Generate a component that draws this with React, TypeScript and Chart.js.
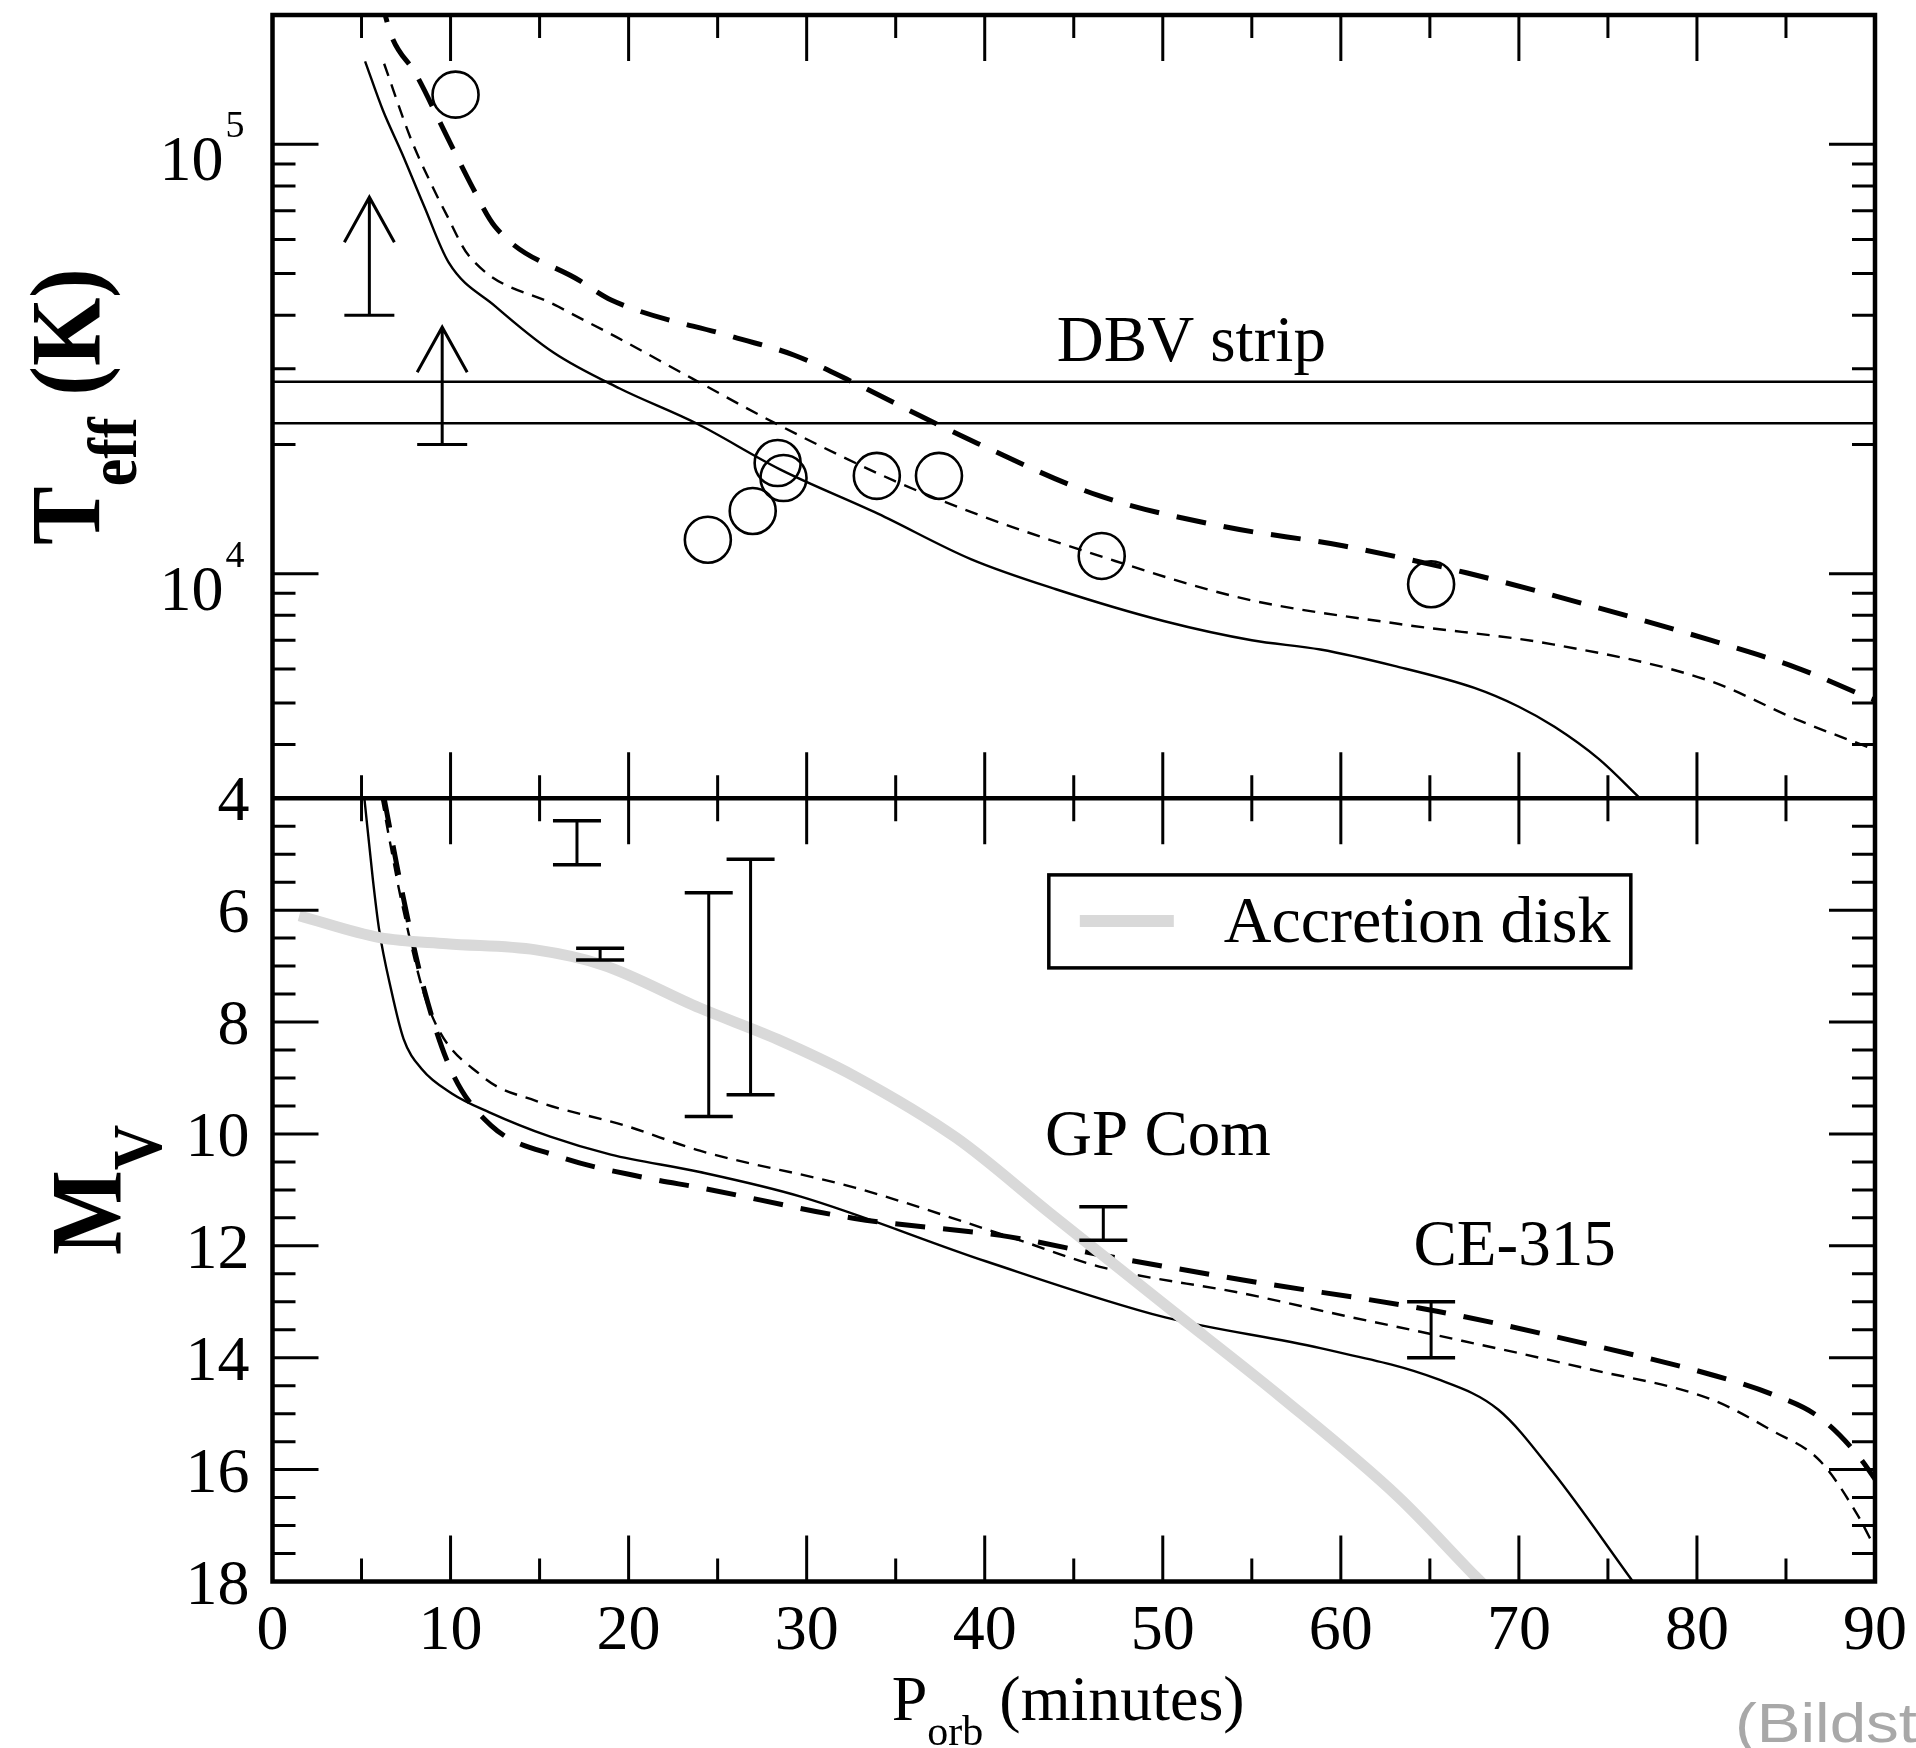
import React, { useEffect, useRef } from "react";
import { Chart, registerables } from "chart.js";

Chart.register(...registerables);

// ---------------- axes / ticks ----------------
const xTickValues = [0, 10, 20, 30, 40, 50, 60, 70, 80, 90];
const xTickLabels = ["0", "10", "20", "30", "40", "50", "60", "70", "80", "90"];
const xMinorTicks = [5, 15, 25, 35, 45, 55, 65, 75, 85];
const tMajorTicks = [1e4, 1e5];
const tTickExponents = ["4", "5"];
const tMinorTicks = [3000, 4000, 5000, 6000, 7000, 8000, 9000, 20000, 30000, 40000, 50000, 60000, 70000, 80000, 90000, 200000];
const mMajorTicks = [4, 6, 8, 10, 12, 14, 16, 18];
const mTickLabels = ["4", "6", "8", "10", "12", "14", "16", "18"];
const mMinorTicks = [4.5, 5, 5.5, 6.5, 7, 7.5, 8.5, 9, 9.5, 10.5, 11, 11.5, 12.5, 13, 13.5, 14.5, 15, 15.5, 16.5, 17, 17.5];

// ---------------- top panel: Teff ----------------
const solidTx = [5.2, 6.2, 7.27, 8.5, 9.9, 12.5, 15.8, 19.5, 23.8, 28.5, 34, 39.25, 44, 50.1, 55, 58.85, 63, 67.5, 70, 72, 74.5, 76.8];
const solidTy = [156000, 120000, 95300, 72000, 53000, 42000, 32700, 27000, 22400, 17500, 13800, 10800, 9200, 7750, 7000, 6660, 6100, 5420, 4900, 4400, 3700, 3000];

const thinTx = [6.27, 7.77, 8.78, 9.78, 11.03, 16.04, 19.3, 23.56, 28.37, 34.9, 39.6, 45.8, 54.5, 63.2, 71.9, 80.6, 85.8, 90];
const thinTy = [154000, 103000, 83000, 68500, 55000, 41900, 35600, 28500, 22260, 16470, 13740, 11220, 8760, 7645, 6847, 5650, 4540, 3890];

const thickTx = [6.0, 6.7, 8.04, 9.76, 11.13, 12.5, 17.3, 19.02, 25.88, 29.31, 32.74, 36.17, 39.6, 46.46, 53.32, 60.19, 67.05, 73.91, 80.77, 85.57, 89.69, 90.5];
const thickTy = [225000, 178000, 146000, 105000, 80900, 64300, 48000, 43400, 35600, 32270, 27730, 23550, 20110, 15170, 12900, 11600, 10050, 8450, 7000, 6046, 5134, 4980];

const dbvStripT = [28000, 22400];

const starsP = [10.28, 24.45, 26.97, 28.37, 28.7, 33.94, 37.43, 46.57, 65.07];
const starsT = [130500, 12000, 14000, 18100, 16700, 16900, 16900, 11000, 9450];

const limitP = [5.44, 9.53];
const limitLowT = [40000, 20000];
const limitArrowT = [75300, 37500];

// ---------------- bottom panel: Mv ----------------
const solidMx = [5.16, 5.64, 5.98, 6.66, 7.36, 8.38, 10.09, 12.15, 15.6, 19.0, 24.0, 29.67, 40.1, 50.14, 58.85, 65.4, 68.85, 71.9, 76.4];
const solidMy = [4.0, 5.46, 6.33, 7.42, 8.3, 8.84, 9.28, 9.61, 10.05, 10.37, 10.68, 11.12, 12.28, 13.28, 13.83, 14.38, 14.93, 16.04, 18.0];

const thinMx = [6.14, 7.27, 8.78, 11.78, 14.79, 19.8, 24.0, 32.7, 41.4, 46.66, 54.5, 60.2, 65.4, 73.9, 80.77, 84.2, 86.9, 89.0, 90];
const thinMy = [4.0, 5.88, 7.75, 8.97, 9.41, 9.85, 10.3, 10.96, 11.84, 12.39, 12.85, 13.25, 13.6, 14.2, 14.74, 15.3, 15.84, 16.8, 17.4];

const thickMx = [6.27, 7.27, 8.52, 10.03, 12.28, 16.04, 21.05, 24.0, 32.7, 41.4, 46.66, 54.5, 65.4, 73.9, 80.77, 84.2, 86.9, 89.0, 90.5];
const thickMy = [4.0, 5.66, 7.42, 8.86, 9.85, 10.4, 10.79, 10.96, 11.51, 11.84, 12.17, 12.61, 13.17, 13.76, 14.3, 14.65, 15.07, 15.73, 16.4];

const diskMx = [1.5, 6.02, 9.78, 14.79, 18.55, 24.0, 28.37, 32.7, 38.4, 43.6, 50.14, 56.67, 63.2, 67.56, 68.0];
const diskMy = [6.1, 6.49, 6.6, 6.71, 6.98, 7.75, 8.31, 8.97, 10.07, 11.4, 13.06, 14.71, 16.48, 17.91, 18.05];

const errP = [17.1, 18.4, 24.5, 26.85, 46.66, 65.07];
const errLoM = [4.4, 6.68, 5.69, 5.09, 11.3, 13.0];
const errHiM = [5.19, 6.89, 9.69, 9.3, 11.9, 14.0];

// annotations (data coordinates of the left/baseline anchor)
const notes = [
  { text: "DBV strip", x: 44.05, y: 31300, axis: "yT" },
  { text: "GP Com", x: 43.39, y: 10.38, axis: "yM" },
  { text: "CE-315", x: 64.08, y: 12.34, axis: "yM" },
];
const legendLabel = "Accretion disk";

const SERIF = "'Liberation Serif', 'Times New Roman', serif";

function zip(xs: number[], ys: number[]) {
  return xs.map((x, i) => ({ x, y: ys[i] }));
}

function rotatedText(ctx: CanvasRenderingContext2D, baseX: number, centerY: number, parts: { text: string; font: string; shift: number }[], sx: number) {
  ctx.save();
  ctx.translate(baseX, centerY);
  ctx.scale(sx, 1);
  ctx.rotate(-Math.PI / 2);
  ctx.textAlign = "left";
  ctx.textBaseline = "alphabetic";
  ctx.fillStyle = "#000";
  let total = 0;
  const widths = parts.map((p) => {
    ctx.font = p.font;
    const w = ctx.measureText(p.text).width;
    total += w;
    return w;
  });
  let u = -total / 2;
  parts.forEach((p, i) => {
    ctx.font = p.font;
    ctx.fillText(p.text, u, p.shift / sx);
    u += widths[i];
  });
  ctx.restore();
}

const decoPlugin = {
  id: "deco",
  beforeDatasetDraw(chart: any, args: any) {
    const ds = chart.data.datasets[args.index];
    const ys = chart.scales[ds.yAxisID];
    const a = chart.chartArea;
    const ctx = chart.ctx;
    ctx.save();
    ctx.beginPath();
    ctx.rect(a.left, ys.top, a.right - a.left, ys.bottom - ys.top);
    ctx.clip();
  },
  afterDatasetDraw(chart: any) {
    chart.ctx.restore();
  },
  afterDraw(chart: any) {
    const ctx: CanvasRenderingContext2D = chart.ctx;
    const xs = chart.scales.x;
    const yT = chart.scales.yT;
    const yM = chart.scales.yM;
    const a = chart.chartArea;
    const L = a.left, R = a.right;
    const MAJ = 46, MIN = 23;

    ctx.save();
    ctx.strokeStyle = "#000";
    ctx.lineCap = "butt";

    // ---- limits (arrows) in top panel ----
    ctx.lineWidth = 3;
    limitP.forEach((p, i) => {
      const xp = xs.getPixelForValue(p);
      const yb = yT.getPixelForValue(limitLowT[i]);
      const yt = yT.getPixelForValue(limitArrowT[i]);
      ctx.beginPath();
      ctx.moveTo(xp, yb);
      ctx.lineTo(xp, yt);
      ctx.moveTo(xp - 25, yb);
      ctx.lineTo(xp + 25, yb);
      ctx.moveTo(xp - 25, yt + 45);
      ctx.lineTo(xp, yt);
      ctx.lineTo(xp + 25, yt + 45);
      ctx.stroke();
    });

    // ---- error bars in bottom panel ----
    errP.forEach((p, i) => {
      const xp = xs.getPixelForValue(p);
      const y1 = yM.getPixelForValue(errLoM[i]);
      const y2 = yM.getPixelForValue(errHiM[i]);
      ctx.lineWidth = 3;
      ctx.beginPath();
      ctx.moveTo(xp, y1);
      ctx.lineTo(xp, y2);
      ctx.stroke();
      ctx.lineWidth = 3.5;
      ctx.beginPath();
      ctx.moveTo(xp - 24, y1);
      ctx.lineTo(xp + 24, y1);
      ctx.moveTo(xp - 24, y2);
      ctx.lineTo(xp + 24, y2);
      ctx.stroke();
    });

    // ---- ticks ----
    ctx.lineWidth = 3;
    const panels = [yT, yM];
    panels.forEach((ys: any) => {
      const edges = [ys.top, ys.bottom];
      edges.forEach((ey: number, k: number) => {
        const dir = k === 0 ? 1 : -1;
        xTickValues.forEach((v) => {
          const px = xs.getPixelForValue(v);
          ctx.beginPath();
          ctx.moveTo(px, ey);
          ctx.lineTo(px, ey + dir * MAJ);
          ctx.stroke();
        });
        xMinorTicks.forEach((v) => {
          const px = xs.getPixelForValue(v);
          ctx.beginPath();
          ctx.moveTo(px, ey);
          ctx.lineTo(px, ey + dir * MIN);
          ctx.stroke();
        });
      });
    });
    const yTicks = (ys: any, vals: number[], len: number) => {
      vals.forEach((v) => {
        const py = ys.getPixelForValue(v);
        ctx.beginPath();
        ctx.moveTo(L, py);
        ctx.lineTo(L + len, py);
        ctx.moveTo(R, py);
        ctx.lineTo(R - len, py);
        ctx.stroke();
      });
    };
    yTicks(yT, tMajorTicks, MAJ);
    yTicks(yT, tMinorTicks, MIN);
    yTicks(yM, mMajorTicks, MAJ);
    yTicks(yM, mMinorTicks, MIN);

    // ---- frame ----
    ctx.lineWidth = 4.5;
    ctx.strokeRect(L, yT.top, R - L, yM.bottom - yT.top);
    ctx.beginPath();
    ctx.moveTo(L, yT.bottom);
    ctx.lineTo(R, yT.bottom);
    ctx.stroke();

    // ---- tick labels ----
    ctx.fillStyle = "#000";
    ctx.textBaseline = "alphabetic";
    ctx.font = `64px ${SERIF}`;
    ctx.textAlign = "center";
    xTickValues.forEach((v, i) => {
      ctx.fillText(xTickLabels[i], xs.getPixelForValue(v), yM.bottom + 67);
    });
    ctx.textAlign = "right";
    mMajorTicks.forEach((v, i) => {
      ctx.fillText(mTickLabels[i], L - 23, yM.getPixelForValue(v) + 22);
    });
    tMajorTicks.forEach((v, i) => {
      const py = yT.getPixelForValue(v);
      ctx.font = `64px ${SERIF}`;
      ctx.textAlign = "right";
      ctx.fillText("10", L - 49, py + 36);
      ctx.font = `38px ${SERIF}`;
      ctx.textAlign = "left";
      ctx.fillText(tTickExponents[i], L - 47, py - 7);
    });

    // ---- annotations ----
    ctx.font = `65px ${SERIF}`;
    ctx.textAlign = "left";
    notes.forEach((n) => {
      const ys = chart.scales[n.axis];
      ctx.fillText(n.text, xs.getPixelForValue(n.x), ys.getPixelForValue(n.y));
    });

    // ---- legend ----
    const lx = xs.getPixelForValue(43.6), ly = yM.getPixelForValue(5.37);
    const lw = 582, lh = 93;
    ctx.lineWidth = 3.5;
    ctx.strokeRect(lx, ly, lw, lh);
    ctx.strokeStyle = "#d9d9d9";
    ctx.lineWidth = 12;
    ctx.beginPath();
    ctx.moveTo(lx + 31, ly + 46);
    ctx.lineTo(lx + 125, ly + 46);
    ctx.stroke();
    ctx.fillStyle = "#000";
    ctx.font = `66px ${SERIF}`;
    ctx.fillText(legendLabel, lx + 175, ly + 67);

    // ---- axis titles ----
    const cx = (L + R) / 2;
    let tx = cx - 182;
    const tb = 1720;
    ctx.textAlign = "left";
    ctx.font = `64px ${SERIF}`;
    ctx.fillText("P", tx, tb);
    tx += ctx.measureText("P").width;
    ctx.font = `42px ${SERIF}`;
    ctx.fillText("orb", tx, tb + 25);
    tx += ctx.measureText("orb").width;
    ctx.font = `64px ${SERIF}`;
    ctx.fillText(" (minutes)", tx, tb);

    rotatedText(ctx, L - 174, (yT.top + yT.bottom) / 2, [
      { text: "T", font: `bold 88px ${SERIF}`, shift: 0 },
      { text: "eff", font: `bold 62px ${SERIF}`, shift: 37 },
      { text: " (K)", font: `bold 88px ${SERIF}`, shift: 0 },
    ], 1.12);
    rotatedText(ctx, L - 152, (yM.top + yM.bottom) / 2, [
      { text: "M", font: `bold 90px ${SERIF}`, shift: 0 },
      { text: "V", font: `bold 63px ${SERIF}`, shift: 40 },
    ], 1.12);

    // ---- source caption (cut by page edge) ----
    ctx.save();
    ctx.translate(1735, 1742);
    ctx.scale(1.17, 1);
    ctx.fillStyle = "#a8a8a8";
    ctx.font = `56px 'Liberation Sans', Arial, sans-serif`;
    ctx.textAlign = "left";
    ctx.fillText("(Bildsten et al. 2006)", 0, 0);
    ctx.restore();

    ctx.restore();
  },
};

export default function App() {
  const ref = useRef<HTMLCanvasElement | null>(null);
  useEffect(() => {
    if (!ref.current) return;
    const lineBase = { showLine: true, pointRadius: 0, fill: false, cubicInterpolationMode: "monotone" as const, borderColor: "#000" };
    const chart = new Chart(ref.current, {
      type: "scatter",
      data: {
        datasets: [
          { ...lineBase, label: "Accretion disk", data: zip(diskMx, diskMy), yAxisID: "yM", borderColor: "#d9d9d9", borderWidth: 11, borderCapStyle: "butt" },
          { ...lineBase, label: "DBV high", data: zip([0, 90], [dbvStripT[0], dbvStripT[0]]), yAxisID: "yT", borderWidth: 2.5 },
          { ...lineBase, label: "DBV low", data: zip([0, 90], [dbvStripT[1], dbvStripT[1]]), yAxisID: "yT", borderWidth: 2.5 },
          { ...lineBase, label: "solid T", data: zip(solidTx, solidTy), yAxisID: "yT", borderWidth: 2.4 },
          { ...lineBase, label: "thin T", data: zip(thinTx, thinTy), yAxisID: "yT", borderWidth: 2.4, borderDash: [13, 9] },
          { ...lineBase, label: "thick T", data: zip(thickTx, thickTy), yAxisID: "yT", borderWidth: 5, borderDash: [30, 18] },
          { ...lineBase, label: "solid M", data: zip(solidMx, solidMy), yAxisID: "yM", borderWidth: 2.4 },
          { ...lineBase, label: "thin M", data: zip(thinMx, thinMy), yAxisID: "yM", borderWidth: 2.4, borderDash: [13, 9] },
          { ...lineBase, label: "thick M", data: zip(thickMx, thickMy), yAxisID: "yM", borderWidth: 5, borderDash: [30, 18] },
          {
            label: "AM CVn stars",
            data: zip(starsP, starsT),
            yAxisID: "yT",
            showLine: false,
            pointRadius: 23,
            pointBorderWidth: 2.6,
            pointBorderColor: "#000",
            pointBackgroundColor: "rgba(0,0,0,0)",
          },
        ],
      },
      options: {
        animation: false,
        responsive: false,
        maintainAspectRatio: false,
        events: [],
        layout: { autoPadding: false, padding: { top: 15, right: 41, left: 0, bottom: 0 } },
        plugins: { legend: { display: false }, tooltip: { enabled: false } },
        scales: {
          x: {
            type: "linear", min: 0, max: 90, position: "bottom",
            grid: { display: false }, border: { display: false }, ticks: { display: false },
            afterFit: (s: any) => { s.height = 166.5; },
          },
          yT: {
            type: "logarithmic", min: 3000, max: 200000, position: "left",
            stack: "panels", stackWeight: 1, weight: 2,
            grid: { display: false }, border: { display: false }, ticks: { display: false },
            afterFit: (s: any) => { s.width = 272.5; },
          },
          yM: {
            type: "linear", min: 4, max: 18, reverse: true, position: "left",
            stack: "panels", stackWeight: 1, weight: 1,
            grid: { display: false }, border: { display: false }, ticks: { display: false },
            afterFit: (s: any) => { s.width = 272.5; },
          },
        },
      } as any,
      plugins: [decoPlugin],
    });
    return () => chart.destroy();
  }, []);
  return (
    <div style={{ position: "absolute", left: 0, top: 0, width: 1916, height: 1748, overflow: "hidden", background: "#fff" }}>
      <canvas ref={ref} width={1916} height={1748} style={{ display: "block", width: 1916, height: 1748 }} />
    </div>
  );
}
